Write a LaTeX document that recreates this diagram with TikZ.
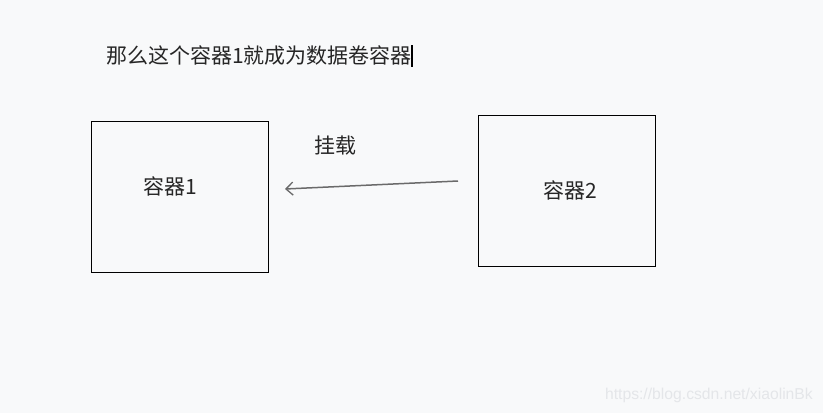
\documentclass[tikz,border=0pt]{standalone}
\usepackage{fontspec}
\newfontfamily\cjk{Noto Sans CJK SC}
\newfontfamily\wm{Liberation Sans}
\usetikzlibrary{arrows.meta}
\definecolor{bg}{HTML}{F8F9FA}
\definecolor{wmc}{HTML}{E4E6E9}
\definecolor{arr}{HTML}{6A6A6A}
\tikzset{
  box/.style={draw=black, line width=0.9pt, minimum width=177pt, minimum height=151pt, inner sep=0pt},
  lbl/.style={font=\cjk\fontsize{21}{24}\selectfont, inner sep=0pt, text=black!85},
  mount/.style={draw=arr, line width=1.5pt, -{Straight Barb[length=7pt, width=13pt, line width=1.3pt]}}
}
\begin{document}
\begin{tikzpicture}[x=1pt,y=-1pt]
\fill[bg] (0,0) rectangle (823,413);
\useasboundingbox (0,0) rectangle (823,413);
\node[lbl, anchor=west] (title) at (106,56) {那么这个容器1就成为数据卷容器};
\draw[black, line width=1.2pt] (412,45) -- (412,67);
\node[box] (c1) at (179.5,196.5) {};
\node[lbl] (l1) at (170,186) {容器1};
\node[box] (c2) at (566.5,190.5) {};
\node[lbl] (l2) at (570,190) {容器2};
\node[lbl] (gz) at (335,146) {挂载};
\coordinate (s) at (458,181);
\coordinate (e) at (285,189);
\draw[mount] (s) -- (e);
\node[font=\wm\fontsize{15.7}{18}\selectfont, text=wmc, anchor=east, inner sep=0pt] (w) at (813,395) {https://blog.csdn.net/xiaolinBk};
\end{tikzpicture}
\end{document}
